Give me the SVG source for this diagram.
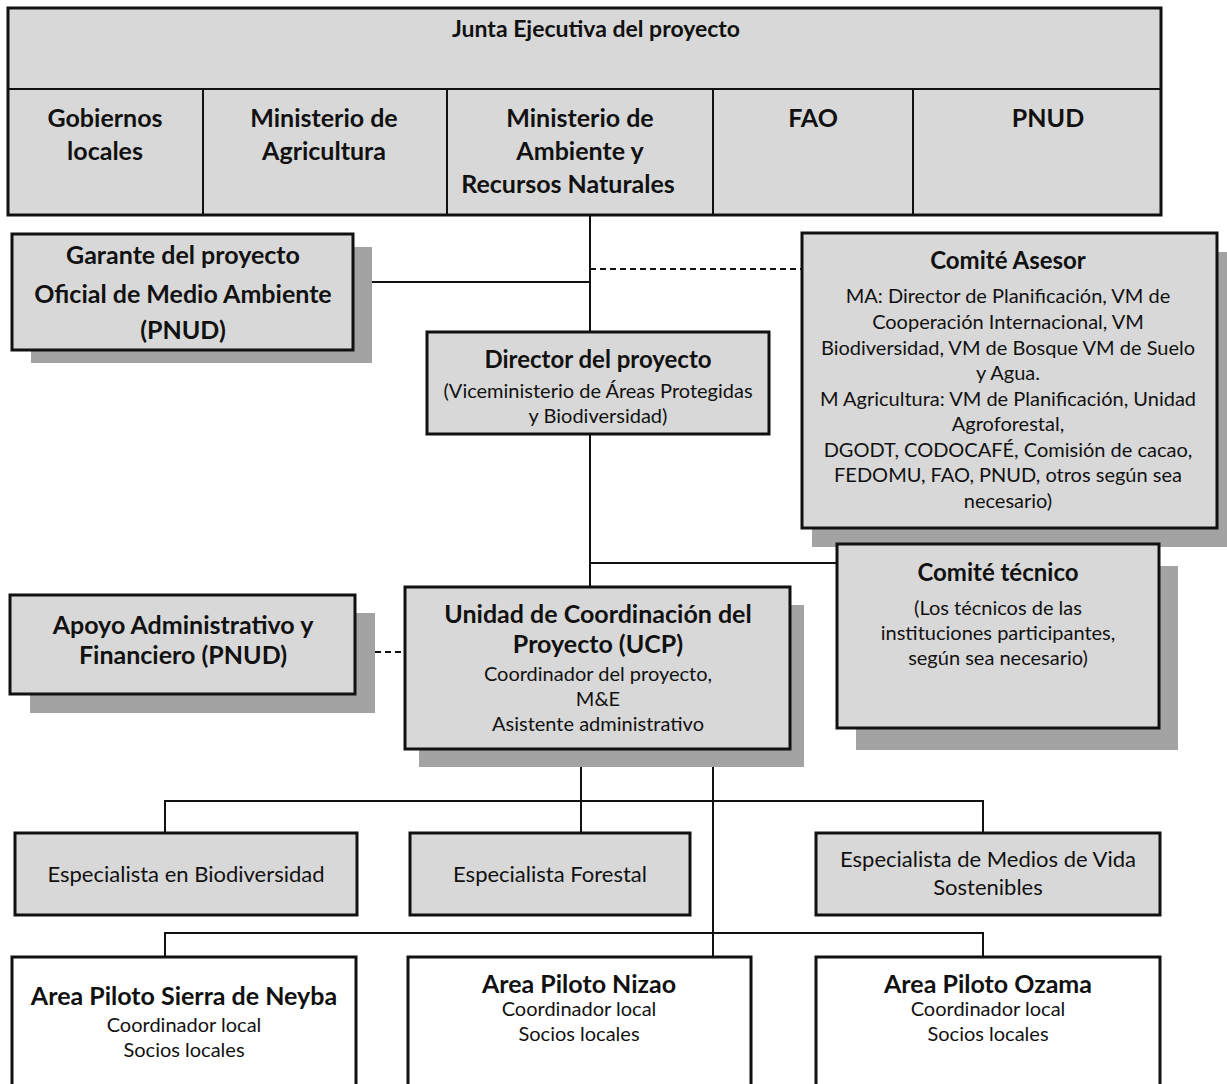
<svg xmlns="http://www.w3.org/2000/svg" width="1227" height="1084" viewBox="0 0 1227 1084">
<style>
text{font-family:Lato,"Liberation Sans",sans-serif;fill:#111;text-anchor:middle}
.b{font-weight:700}
.box{fill:#d8d8d8;stroke:#111;stroke-width:3}
.wbox{fill:#fff;stroke:#111;stroke-width:3}
.sh{fill:#a3a3a3}
.div{stroke:#111;stroke-width:2}
.ln{stroke:#111;stroke-width:2;fill:none}
.dash{stroke:#111;stroke-width:2;fill:none;stroke-dasharray:6 4}
.tj{font-size:23px}.tb{font-size:25px}.tt{font-size:24px}.tr{font-size:20px}.te{font-size:22px}
</style>
<rect width="1227" height="1084" fill="#fff"/>
<g id="connectors">
<line class="ln" x1="590" y1="215" x2="590" y2="332"/>
<line class="ln" x1="353" y1="282" x2="590" y2="282"/>
<line class="dash" x1="590" y1="269" x2="802" y2="269"/>
<line class="ln" x1="590" y1="434" x2="590" y2="587"/>
<line class="ln" x1="590" y1="563" x2="837" y2="563"/>
<line class="dash" x1="355" y1="652" x2="405" y2="652"/>
<line class="ln" x1="581" y1="749" x2="581" y2="833"/>
<polyline class="ln" points="165,833 165,801 983,801 983,833"/>
<line class="ln" x1="713" y1="749" x2="713" y2="957"/>
<polyline class="ln" points="165,957 165,933 983,933 983,957"/>
</g>
<g id="junta">
<rect class="box" x="8" y="8" width="1153" height="207"/>
<line class="div" x1="8" y1="89" x2="1161" y2="89"/>
<line class="div" x1="203" y1="89" x2="203" y2="215"/>
<line class="div" x1="447" y1="89" x2="447" y2="215"/>
<line class="div" x1="713" y1="89" x2="713" y2="215"/>
<line class="div" x1="913" y1="89" x2="913" y2="215"/>
<text class="b tj" x="596" y="37">Junta Ejecutiva del proyecto</text>
</g>
<g id="gobiernos"><text class="b tb" x="105" y="127">Gobiernos</text><text class="b tb" x="105" y="160">locales</text></g>
<g id="agricultura"><text class="b tb" x="324" y="127">Ministerio de</text><text class="b tb" x="324" y="160">Agricultura</text></g>
<g id="ambiente"><text class="b tb" x="580" y="127">Ministerio de</text><text class="b tb" x="580" y="160">Ambiente y</text><text class="b tb" x="568" y="193">Recursos Naturales</text></g>
<g id="fao"><text class="b tb" x="813" y="127">FAO</text></g>
<g id="pnud"><text class="b tb" x="1048" y="127">PNUD</text></g>
<g id="garante">
<rect class="sh" x="31" y="247" width="341" height="116"/>
<rect class="box" x="12" y="234" width="341" height="116"/>
<text class="b tb" x="183" y="264">Garante del proyecto</text>
<text class="b tb" x="183" y="303">Oficial de Medio Ambiente</text>
<text class="b tb" x="183" y="339">(PNUD)</text>
</g>
<g id="asesor">
<rect class="sh" x="812" y="252" width="415" height="295"/>
<rect class="box" x="802" y="233" width="415" height="295"/>
<text class="b tt" x="1008" y="269">Comité Asesor</text>
<text class="tr" x="1008" y="303">MA: Director de Planificación, VM de</text>
<text class="tr" x="1008" y="329">Cooperación Internacional, VM</text>
<text class="tr" x="1008" y="355">Biodiversidad, VM de Bosque VM de Suelo</text>
<text class="tr" x="1008" y="380">y Agua.</text>
<text class="tr" x="1008" y="406">M Agricultura: VM de Planificación, Unidad</text>
<text class="tr" x="1008" y="431">Agroforestal,</text>
<text class="tr" x="1008" y="457">DGODT, CODOCAFÉ, Comisión de cacao,</text>
<text class="tr" x="1008" y="482">FEDOMU, FAO, PNUD, otros según sea</text>
<text class="tr" x="1008" y="508">necesario)</text>
</g>
<g id="director">
<rect class="box" x="427" y="332" width="342" height="102"/>
<text class="b tt" x="598" y="368">Director del proyecto</text>
<text class="tr" x="598" y="398">(Viceministerio de Áreas Protegidas</text>
<text class="tr" x="598" y="423">y Biodiversidad)</text>
</g>
<g id="tecnico">
<rect class="sh" x="856" y="566" width="322" height="184"/>
<rect class="box" x="837" y="544" width="322" height="184"/>
<text class="b tt" x="998" y="581">Comité técnico</text>
<text class="tr" x="998" y="615">(Los técnicos de las</text>
<text class="tr" x="998" y="640">instituciones participantes,</text>
<text class="tr" x="998" y="665">según sea necesario)</text>
</g>
<g id="apoyo">
<rect class="sh" x="30" y="613" width="345" height="100"/>
<rect class="box" x="10" y="595" width="345" height="99"/>
<text class="b tb" x="183" y="634">Apoyo Administrativo y</text>
<text class="b tb" x="183" y="664">Financiero (PNUD)</text>
</g>
<g id="ucp">
<rect class="sh" x="419" y="605" width="385" height="162"/>
<rect class="box" x="405" y="587" width="385" height="162"/>
<text class="b tb" x="598" y="623">Unidad de Coordinación del</text>
<text class="b tb" x="598" y="653">Proyecto (UCP)</text>
<text class="tr" x="598" y="681">Coordinador del proyecto,</text>
<text class="tr" x="598" y="706">M&amp;E</text>
<text class="tr" x="598" y="731">Asistente administrativo</text>
</g>
<g id="esp-bio">
<rect class="box" x="15" y="833" width="342" height="82"/>
<text class="te" x="186" y="882">Especialista en Biodiversidad</text>
</g>
<g id="esp-forestal">
<rect class="box" x="410" y="833" width="280" height="82"/>
<text class="te" x="550" y="882">Especialista Forestal</text>
</g>
<g id="esp-medios">
<rect class="box" x="816" y="833" width="344" height="82"/>
<text class="te" x="988" y="867">Especialista de Medios de Vida</text>
<text class="te" x="988" y="895">Sostenibles</text>
</g>
<g id="area-neyba">
<rect class="wbox" x="12" y="957" width="344" height="140"/>
<text class="b tb" x="184" y="1005">Area Piloto Sierra de Neyba</text>
<text class="tr" x="184" y="1032">Coordinador local</text>
<text class="tr" x="184" y="1057">Socios locales</text>
</g>
<g id="area-nizao">
<rect class="wbox" x="408" y="957" width="343" height="140"/>
<text class="b tb" x="579" y="993">Area Piloto Nizao</text>
<text class="tr" x="579" y="1016">Coordinador local</text>
<text class="tr" x="579" y="1041">Socios locales</text>
</g>
<g id="area-ozama">
<rect class="wbox" x="816" y="957" width="344" height="140"/>
<text class="b tb" x="988" y="993">Area Piloto Ozama</text>
<text class="tr" x="988" y="1016">Coordinador local</text>
<text class="tr" x="988" y="1041">Socios locales</text>
</g>
</svg>
